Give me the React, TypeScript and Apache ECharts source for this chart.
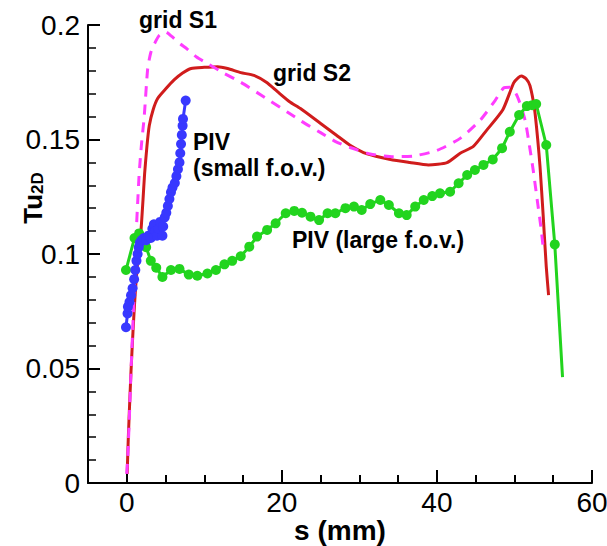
import { useEffect, useRef } from "react";
import * as echarts from "echarts";

// grid S1 (magenta dashed)
const s1X = [0.0, 0.15, 0.35, 0.55, 0.8, 1.0, 1.2, 1.4, 1.6, 1.9, 2.25, 2.7, 3.1, 3.6, 4.2, 5.0, 5.8, 6.8, 7.8, 9.0, 10.5, 12.5, 14.7, 17.5, 20.7, 22.5, 25, 27, 28.8, 31.4, 34.4, 37, 40, 43, 45.6, 47.5, 48.6, 49.4, 50.2, 50.8, 51.4, 51.9, 52.4, 53.0, 53.4, 53.7];
const s1Y = [0.004, 0.013, 0.03, 0.049, 0.07, 0.088, 0.108, 0.122, 0.135, 0.148, 0.16, 0.181, 0.188, 0.192, 0.1955, 0.197, 0.195, 0.192, 0.1895, 0.186, 0.183, 0.179, 0.175, 0.169, 0.162, 0.158, 0.153, 0.149, 0.1465, 0.1437, 0.1425, 0.1428, 0.1452, 0.1505, 0.1585, 0.167, 0.1725, 0.1728, 0.17, 0.165, 0.158, 0.148, 0.137, 0.122, 0.112, 0.103];

// grid S2 (red solid)
const s2X = [0.05, 0.2, 0.4, 0.55, 0.8, 1.0, 1.2, 1.5, 1.85, 2.1, 2.3, 2.6, 2.9, 3.4, 4.0, 5.0, 6.1, 7.2, 8.3, 10, 11.7, 13, 14.7, 16.4, 18, 19.4, 21, 22.4, 25, 27, 28.8, 31, 34, 36.5, 38.9, 41.3, 43, 44.7, 46.4, 48.5, 49.9, 50.5, 50.9, 51.5, 52, 52.6, 53.0, 53.3, 53.7, 54.1, 54.4];
const s2Y = [0.004, 0.02, 0.037, 0.049, 0.066, 0.078, 0.088, 0.1, 0.111, 0.124, 0.135, 0.147, 0.156, 0.163, 0.168, 0.172, 0.176, 0.179, 0.181, 0.1815, 0.1818, 0.181, 0.1792, 0.178, 0.175, 0.171, 0.1665, 0.1635, 0.157, 0.152, 0.1475, 0.1437, 0.1413, 0.14, 0.1389, 0.1399, 0.144, 0.147, 0.154, 0.163, 0.1747, 0.177, 0.1777, 0.1765, 0.1735, 0.163, 0.15, 0.138, 0.117, 0.0945, 0.082];

// PIV small f.o.v. (blue)
const pivSmallX = [-0.1, 0.1, 0.15, 0.35, 0.55, 0.75, 0.95, 1.1, 1.25, 1.4, 1.55, 1.7, 1.9, 2.2, 2.5, 2.8, 3.1, 3.3, 3.5, 3.7, 3.9, 4.1, 4.3, 4.6, 4.7, 4.9, 5.1, 5.3, 5.5, 5.7, 5.9, 6.2, 6.4, 6.6, 6.8, 6.9, 7.0, 7.1, 7.2, 7.25, 7.6];
const pivSmallY = [0.068, 0.074, 0.077, 0.079, 0.082, 0.085, 0.089, 0.093, 0.097, 0.1, 0.103, 0.105, 0.106, 0.107, 0.106, 0.108, 0.107, 0.111, 0.113, 0.11, 0.108, 0.111, 0.114, 0.108, 0.112, 0.116, 0.118, 0.121, 0.124, 0.127, 0.129, 0.131, 0.134, 0.137, 0.14, 0.144, 0.148, 0.152, 0.156, 0.159, 0.167];

// PIV large f.o.v. (green)
const pivLargeX = [-0.1, 1.0, 1.6, 2.5, 3.1, 3.8, 4.6, 5.7, 6.8, 8.0, 9.1, 10.4, 11.5, 12.6, 13.6, 14.7, 15.8, 16.8, 18.1, 19.2, 20.5, 21.6, 22.6, 23.7, 24.8, 25.9, 26.9, 28.2, 29.3, 30.3, 31.4, 32.7, 33.8, 35.1, 36.1, 37.2, 38.3, 39.4, 40.4, 41.7, 42.8, 43.9, 44.9, 46.0, 47.2, 48.4, 49.4, 50.6, 51.6, 52.3, 52.8, 54.1, 55.2, 56.2];
const pivLargeY = [0.093, 0.107, 0.109, 0.103, 0.097, 0.094, 0.09, 0.093, 0.0935, 0.091, 0.0905, 0.0915, 0.093, 0.0955, 0.097, 0.099, 0.1032, 0.1076, 0.1105, 0.1134, 0.1178, 0.1188, 0.118, 0.1163, 0.1148, 0.1178, 0.1178, 0.12, 0.1207, 0.1192, 0.1218, 0.1236, 0.1214, 0.1178, 0.117, 0.1207, 0.1236, 0.1253, 0.1265, 0.1272, 0.1309, 0.1345, 0.1367, 0.1389, 0.1413, 0.1462, 0.1534, 0.1607, 0.1646, 0.165, 0.1655, 0.1476, 0.1042, 0.0462];

const xMajorTicks = [0, 20, 40, 60];
const annotations = ["grid S1", "grid S2", "PIV", "(small f.o.v.)", "PIV (large f.o.v.)"];

const FONT = '"Liberation Sans", Arial, Helvetica, sans-serif';

const GRID = { left: 88, right: 15, top: 25, bottom: 63 };
const W = 607;
const H = 546;
const gridW = W - GRID.left - GRID.right;
const gridH = H - GRID.top - GRID.bottom;

function pairs(xs: number[], ys: number[]) {
  return xs.map((x, i) => [x, ys[i]]);
}

export default function App() {
  const ref = useRef<HTMLDivElement>(null);
  useEffect(() => {
    const chart = echarts.init(ref.current!, null, { renderer: "svg" });
    const greenData = pivLargeX.map((x, i) =>
      i === pivLargeX.length - 1
        ? { value: [x, pivLargeY[i]], symbol: "none" }
        : { value: [x, pivLargeY[i]] }
    );
    const annText = (text: string, x: number, y: number) => ({
      type: "text",
      x,
      y,
      z: 100,
      style: {
        text,
        fontSize: 23,
        fontWeight: "bold",
        fontFamily: FONT,
        fill: "#000",
        verticalAlign: "middle",
        align: "left",
      },
    });
    const tickAxisX = (length: number, custom?: number[]) => ({
      type: "value",
      min: -5,
      max: 60,
      interval: 5,
      position: "top",
      offset: -gridH,
      axisLine: { show: false, onZero: false },
      axisTick: {
        show: true,
        length,
        ...(custom ? { customValues: custom } : {}),
        lineStyle: { color: "#000", width: 2 },
      },
      axisLabel: { show: false },
      splitLine: { show: false },
    });
    chart.setOption({
      animation: false,
      backgroundColor: "#fff",
      textStyle: { fontFamily: FONT },
      grid: { ...GRID, containLabel: false, outerBoundsMode: "none" },
      xAxis: [
        {
          type: "value",
          min: -5,
          max: 60,
          interval: 5,
          position: "bottom",
          axisLine: { show: true, onZero: false, lineStyle: { color: "#000", width: 2 } },
          axisTick: { show: false },
          axisLabel: {
            show: true,
            customValues: xMajorTicks,
            fontSize: 28,
            color: "#000",
            margin: 5,
            fontFamily: FONT,
          },
          splitLine: { show: false },
          name: "s (mm)",
          nameLocation: "middle",
          nameGap: 33,
          nameMoveOverlap: false,
          nameTextStyle: { fontSize: 28, fontWeight: "bold", color: "#000", fontFamily: FONT },
        },
        tickAxisX(8),
        tickAxisX(13, xMajorTicks),
      ],
      yAxis: [
        {
          type: "value",
          min: 0,
          max: 0.2,
          interval: 0.05,
          position: "left",
          axisLine: { show: true, onZero: false, lineStyle: { color: "#000", width: 2 } },
          axisTick: { show: false },
          axisLabel: { fontSize: 28, color: "#000", margin: 8, fontFamily: FONT },
          splitLine: { show: false },
          name: "{a|Tu}{b|2D}",
          nameLocation: "middle",
          nameRotate: 90,
          nameGap: 42,
          nameMoveOverlap: false,
          nameTextStyle: {
            padding: [0, 0, 0, 112],
            rich: {
              a: { fontSize: 26, fontWeight: "bold", color: "#000", fontFamily: FONT, lineHeight: 26, verticalAlign: "top", padding: [0, 0, 10, 0] },
              b: { fontSize: 17, fontWeight: "bold", color: "#000", fontFamily: FONT, lineHeight: 17, verticalAlign: "bottom" },
            },
          },
        },
        {
          type: "value",
          min: 0,
          max: 0.2,
          interval: 0.05,
          position: "right",
          offset: -gridW,
          axisLine: { show: false, onZero: false },
          axisTick: { show: true, length: 12, lineStyle: { color: "#000", width: 2 } },
          minorTick: { show: true, splitNumber: 5, length: 8, lineStyle: { color: "#000", width: 1.5 } },
          axisLabel: { show: false },
          splitLine: { show: false },
        },
      ],
      series: [
        {
          name: "grid S2",
          type: "line",
          xAxisIndex: 0,
          yAxisIndex: 0,
          data: pairs(s2X, s2Y),
          showSymbol: false,
          smooth: 0.2,
          lineStyle: { color: "#d01c1c", width: 3 },
          z: 2,
        },
        {
          name: "grid S1",
          type: "line",
          xAxisIndex: 0,
          yAxisIndex: 0,
          data: pairs(s1X, s1Y),
          showSymbol: false,
          smooth: 0.2,
          lineStyle: { color: "#ff3cff", width: 3, type: [10, 8] },
          z: 3,
        },
        {
          name: "PIV (large f.o.v.)",
          type: "line",
          xAxisIndex: 0,
          yAxisIndex: 0,
          data: greenData,
          symbol: "circle",
          symbolSize: 10,
          showAllSymbol: true,
          itemStyle: { color: "#22d41e" },
          lineStyle: { color: "#22d41e", width: 3 },
          z: 4,
        },
        {
          name: "PIV (small f.o.v.)",
          type: "line",
          xAxisIndex: 0,
          yAxisIndex: 0,
          data: pairs(pivSmallX, pivSmallY),
          symbol: "circle",
          symbolSize: 10,
          showAllSymbol: true,
          itemStyle: { color: "#3838ff" },
          lineStyle: { color: "#3838ff", width: 3 },
          z: 5,
        },
      ],
      graphic: [
        annText(annotations[0], 139, 20),
        annText(annotations[1], 273, 73),
        annText(annotations[2], 193, 142),
        annText(annotations[3], 193, 168),
        annText(annotations[4], 292, 240),
      ],
    });
    return () => chart.dispose();
  }, []);
  return (
    <div
      ref={ref}
      style={{ position: "absolute", left: 0, top: 0, width: W, height: H }}
    />
  );
}
